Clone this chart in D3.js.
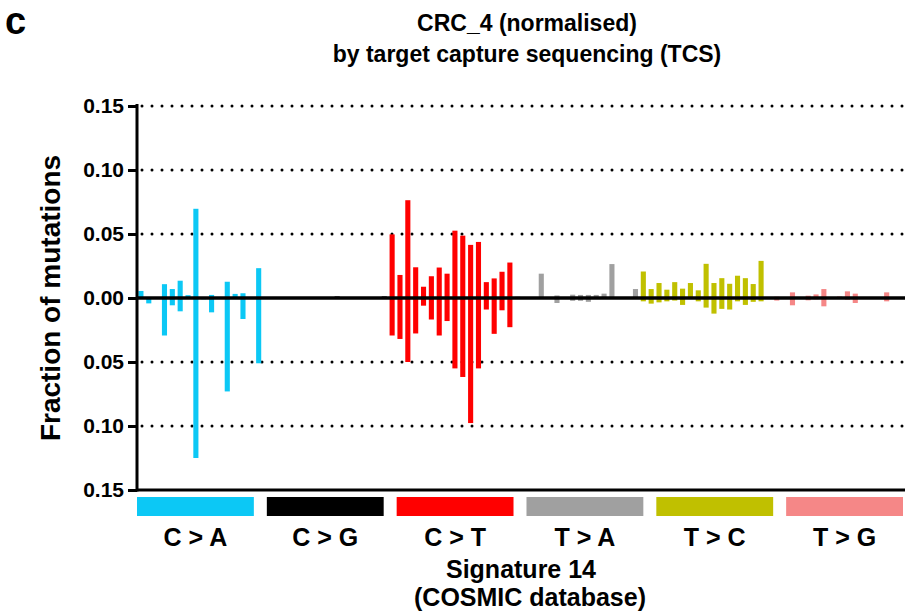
<!DOCTYPE html>
<html>
<head>
<meta charset="utf-8">
<script src="https://cdn.jsdelivr.net/npm/d3@7"></script>
<style>
  html, body { margin: 0; padding: 0; background: #fff; }
  svg { display: block; font-family: "Liberation Sans", Arial, Helvetica, sans-serif; font-weight: bold; }
</style>
</head>
<body>
<svg id="chart" width="910" height="615"></svg>
<script>
// Mutation classes and their colours
const mutationTypes = ["C > A", "C > G", "C > T", "T > A", "T > C", "T > G"];
const typeKeys = ["C>A", "C>G", "C>T", "T>A", "T>C", "T>G"];
const typeColors = ["#0cc8f5", "#000000", "#ff0000", "#a0a0a0", "#c0c000", "#f58787"];
const bases = ["A", "C", "G", "T"];

// Sample CRC_4 (normalised, TCS) – plotted upwards, 16 trinucleotide contexts per class
const sampleCA = [0.0055, 0, 0, 0.0108, 0.007, 0.0135, 0.0022, 0.0697, 0, 0.0024, 0, 0.0127, 0.0032, 0.0037, 0, 0.0233];
const sampleCG = [0, 0.0008, 0, 0, 0, 0, 0, 0, 0, 0.0012, 0, 0, 0, 0, 0, 0.0012];
const sampleCT = [0.0497, 0.018, 0.0764, 0.024, 0.0088, 0.017, 0.0238, 0.019, 0.0526, 0.0487, 0.0415, 0.0438, 0.0124, 0.0153, 0.0205, 0.0277];
const sampleTA = [0.001, 0, 0, 0.019, 0, 0.002, 0, 0.0026, 0.0024, 0.0024, 0.0024, 0.0034, 0.0265, 0, 0, 0.007];
const sampleTC = [0.0207, 0.007, 0.0117, 0.0065, 0.0124, 0.0073, 0.0117, 0.006, 0.0267, 0.0117, 0.0155, 0.0111, 0.0174, 0.0155, 0.0109, 0.029];
const sampleTG = [0, 0.001, 0, 0.0044, 0, 0.0018, 0.0028, 0.007, 0, 0.0012, 0.0052, 0.0034, 0, 0.0008, 0, 0.0044];

// COSMIC Signature 14 – plotted downwards
const sigCA = [0, 0.0042, 0, 0.0293, 0.0057, 0.0104, 0, 0.125, 0.001, 0.0112, 0, 0.073, 0, 0.0164, 0, 0.051];
const sigCG = [0, 0.0006, 0, 0, 0, 0, 0, 0, 0, 0.0008, 0, 0, 0, 0, 0, 0.0008];
const sigCT = [0.0293, 0.032, 0.050, 0.0277, 0.006, 0.0168, 0.0293, 0.018, 0.055, 0.0617, 0.0977, 0.055, 0.009, 0.028, 0.0096, 0.0228];
const sigTA = [0, 0, 0, 0, 0, 0.0039, 0, 0.0022, 0.0022, 0.003, 0, 0, 0, 0, 0, 0];
const sigTC = [0.0026, 0.0044, 0.0034, 0.0026, 0.002, 0.0054, 0.0008, 0.0026, 0.0075, 0.0122, 0.0085, 0.009, 0.0026, 0.0054, 0.003, 0.0026];
const sigTG = [0, 0.002, 0, 0.0057, 0, 0.0018, 0.001, 0.0065, 0, 0, 0.0013, 0.0039, 0, 0, 0, 0.0026];

// Y axis ticks
const tickValues = [0.15, 0.10, 0.05, 0, -0.05, -0.10, -0.15];
const tickLabels = ["0.15", "0.10", "0.05", "0.00", "0.05", "0.10", "0.15"];

const sampleByType = [sampleCA, sampleCG, sampleCT, sampleTA, sampleTC, sampleTG];
const sigByType = [sigCA, sigCG, sigCT, sigTA, sigTC, sigTG];

// Build the 96-context table (5' base, mutation, 3' base)
const rows = [];
typeKeys.forEach((t, ti) => {
  let k = 0;
  bases.forEach(b5 => bases.forEach(b3 => {
    rows.push({
      context: `${b5}[${t}]${b3}`,
      type: ti,
      sample: sampleByType[ti][k],
      signature: sigByType[ti][k]
    });
    k++;
  }));
});

const svg = d3.select("#chart");
const plotLeft = 137, plotRight = 905, plotTop = 106, plotBottom = 490;

const x = d3.scaleBand()
  .domain(rows.map(d => d.context))
  .range([plotLeft, 890.6])
  .paddingInner(0.35)
  .paddingOuter(0.175);

const y = d3.scaleLinear().domain([-0.15, 0.15]).range([plotBottom, plotTop]);

// Dotted reference lines
const gridVals = [0.15, 0.10, 0.05, -0.05, -0.10];
svg.append("g").selectAll("line").data(gridVals).join("line")
  .attr("x1", plotLeft + 5).attr("x2", plotRight)
  .attr("y1", d => y(d)).attr("y2", d => y(d))
  .attr("stroke", "#000").attr("stroke-width", 3)
  .attr("stroke-linecap", "round")
  .attr("stroke-dasharray", "0 10");

// Sample bars (up) and signature bars (down)
const bars = svg.append("g");
bars.selectAll("rect.up").data(rows).join("rect")
  .attr("class", "up")
  .attr("x", d => x(d.context))
  .attr("width", x.bandwidth())
  .attr("y", d => y(d.sample))
  .attr("height", d => y(0) - y(d.sample))
  .attr("fill", d => typeColors[d.type]);
bars.selectAll("rect.down").data(rows).join("rect")
  .attr("class", "down")
  .attr("x", d => x(d.context))
  .attr("width", x.bandwidth())
  .attr("y", y(0))
  .attr("height", d => y(-d.signature) - y(0))
  .attr("fill", d => typeColors[d.type]);

// Zero line and bottom axis line
svg.append("line").attr("x1", plotLeft).attr("x2", plotRight)
  .attr("y1", y(0)).attr("y2", y(0))
  .attr("stroke", "#000").attr("stroke-width", 3.5);
svg.append("line").attr("x1", plotLeft).attr("x2", plotRight)
  .attr("y1", y(-0.15)).attr("y2", y(-0.15))
  .attr("stroke", "#000").attr("stroke-width", 3);

// Y axis
const yAxis = d3.axisLeft(y)
  .tickValues(tickValues)
  .tickFormat((d, i) => tickLabels[i])
  .tickSize(9)
  .tickPadding(4);
const gy = svg.append("g").attr("transform", `translate(${plotLeft},0)`).call(yAxis);
gy.select(".domain").attr("stroke-width", 3).attr("d", `M0,${plotTop - 2}V${plotBottom + 1.5}`);
gy.selectAll(".tick line").attr("stroke-width", 3);
gy.selectAll(".tick text")
  .attr("font-size", 21).attr("font-weight", "bold")
  .attr("font-family", "'Liberation Sans', Arial, sans-serif")
  .attr("fill", "#000");

// Axis title
svg.append("text")
  .attr("transform", `translate(60,${y(0)}) rotate(-90)`)
  .attr("text-anchor", "middle")
  .attr("font-size", 28)
  .text("Fraction of mutations");

// Mutation class legend strips and labels
const gx = d3.scaleBand().domain(mutationTypes).range([plotLeft, 903]).paddingInner(0.1);
svg.append("g").selectAll("rect").data(mutationTypes).join("rect")
  .attr("x", d => gx(d)).attr("width", gx.bandwidth())
  .attr("y", 497).attr("height", 19)
  .attr("fill", (d, i) => typeColors[i]);
svg.append("g").selectAll("text").data(mutationTypes).join("text")
  .attr("x", d => gx(d) + gx.bandwidth() / 2)
  .attr("y", 546)
  .attr("text-anchor", "middle")
  .attr("font-size", 25)
  .text(d => d);

svg.append("text").attr("x", 521).attr("y", 578).attr("text-anchor", "middle")
  .attr("font-size", 25).text("Signature 14");
svg.append("text").attr("x", 530).attr("y", 606).attr("text-anchor", "middle")
  .attr("font-size", 25).text("(COSMIC database)");

// Title
svg.append("text").attr("x", 527).attr("y", 31).attr("text-anchor", "middle")
  .attr("font-size", 23).text("CRC_4 (normalised)");
svg.append("text").attr("x", 527).attr("y", 62).attr("text-anchor", "middle")
  .attr("font-size", 23).text("by target capture sequencing (TCS)");

// Panel letter
svg.append("text").attr("x", 5).attr("y", 34)
  .attr("font-size", 38).text("c");
</script>
</body>
</html>
